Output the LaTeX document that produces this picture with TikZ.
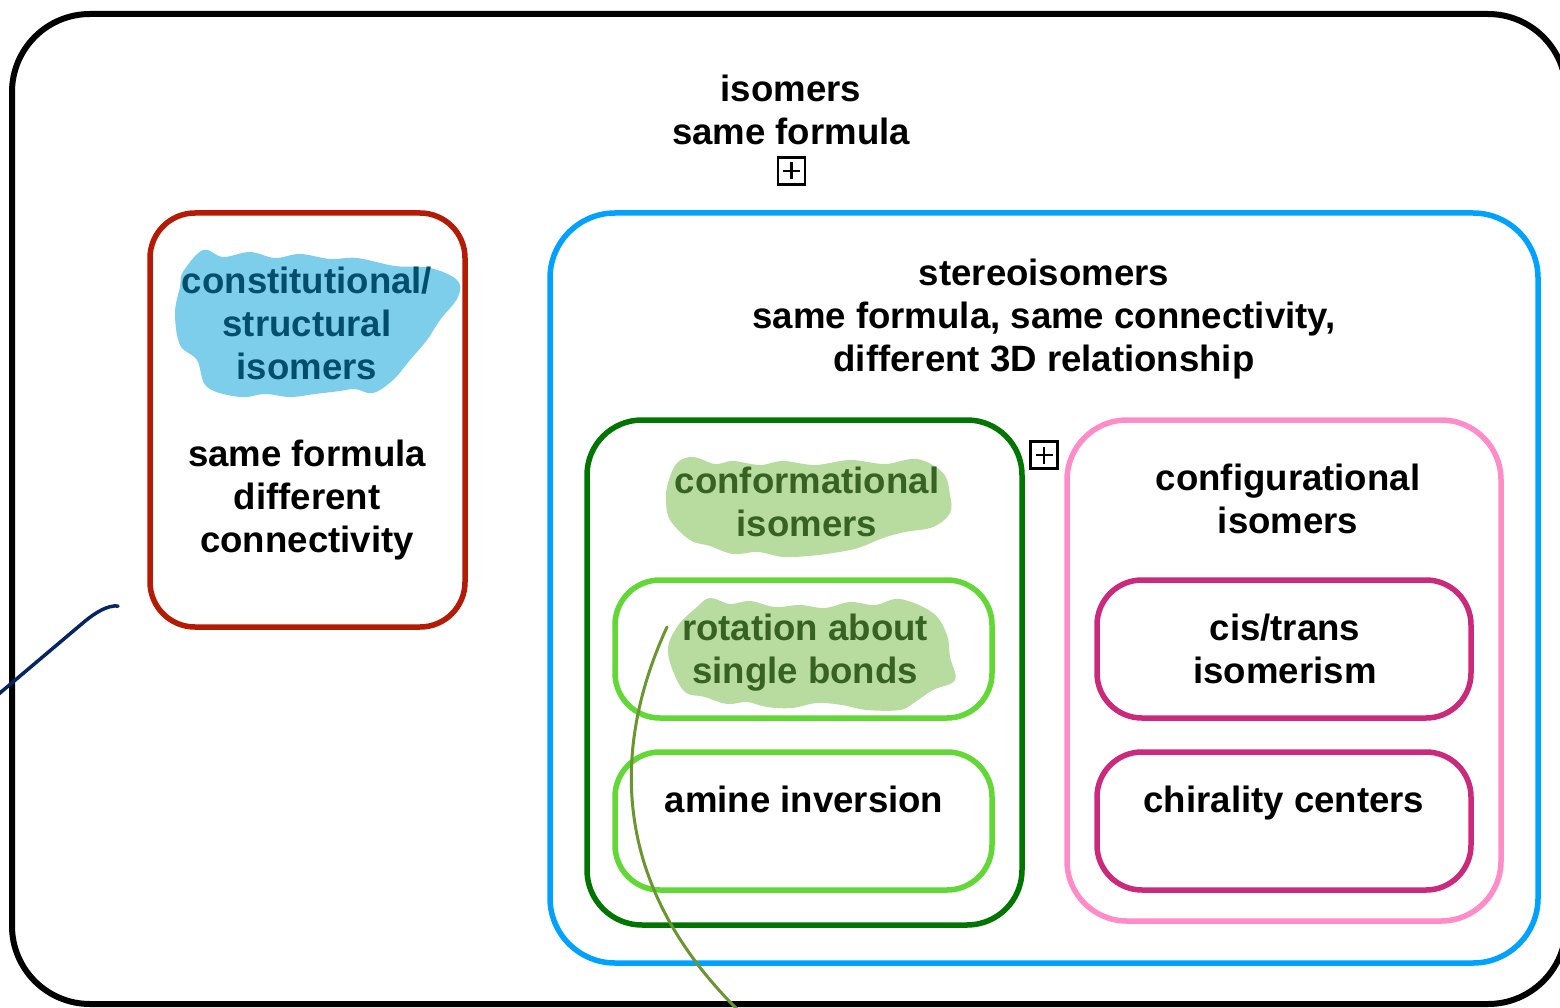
\documentclass[tikz,border=0pt]{standalone}
\usepackage{fontspec}
\setmainfont{Liberation Sans}
\definecolor{redc}{RGB}{181,27,4}
\definecolor{bluec}{RGB}{0,162,255}
\definecolor{dgreen}{RGB}{0,118,0}
\definecolor{lgreen}{RGB}{97,216,54}
\definecolor{pinkc}{RGB}{255,140,200}
\definecolor{magc}{RGB}{203,41,123}
\definecolor{hlblue}{RGB}{125,206,235}
\definecolor{hlgreen}{RGB}{184,220,160}
\definecolor{navyc}{RGB}{5,38,96}
\definecolor{olivec}{RGB}{106,150,48}
\definecolor{tealtext}{RGB}{0,78,108}
\definecolor{greentext}{RGB}{55,98,35}
\tikzset{
  box/.style={draw=#1, line width=5.5pt, inner sep=0pt},
  lbl/.style={font=\bfseries\fontsize{36.6}{43}\selectfont, align=center, inner sep=0pt, anchor=center},
  plusbox/.style={draw, line width=2.5pt, minimum size=27pt, inner sep=0pt,
    path picture={
      \draw[line width=2.5pt] ([xshift=-8.5pt]path picture bounding box.center) -- ([xshift=8.5pt]path picture bounding box.center);
      \draw[line width=2.5pt] ([yshift=-8.5pt]path picture bounding box.center) -- ([yshift=8.5pt]path picture bounding box.center);
    }},
  scribble/.style={fill=#1, draw=none},
  ink/.style={draw=#1, line width=3.5pt, line cap=round}
}
\begin{document}
\begin{tikzpicture}[x=1pt,y=-1pt]
\useasboundingbox (0,0) rectangle (1560,1008);
\clip (0,0) rectangle (1560,1008);
\fill[white] (0,0) rectangle (1560,1008);

% boxes
\node[box=black, line width=6pt, rounded corners=78pt, minimum width=1554pt, minimum height=990pt] (outer) at (789,509) {};
\node[box=redc, rounded corners=45pt, minimum width=315pt, minimum height=414pt] (cons) at (307.5,420) {};
\node[box=bluec, rounded corners=65pt, minimum width=988pt, minimum height=750pt] (stereo) at (1044,588) {};
\node[box=dgreen, rounded corners=55pt, minimum width=435pt, minimum height=505pt] (conf) at (804.5,672.5) {};
\node[box=lgreen, rounded corners=45pt, minimum width=377pt, minimum height=138pt] (rot) at (803.5,649) {};
\node[box=lgreen, rounded corners=45pt, minimum width=377pt, minimum height=138pt] (amine) at (803.5,821) {};
\node[box=pinkc, rounded corners=60pt, minimum width=434pt, minimum height=501pt] (config) at (1284,670.5) {};
\node[box=magc, rounded corners=45pt, minimum width=374pt, minimum height=138pt] (cistrans) at (1284,649) {};
\node[box=magc, rounded corners=45pt, minimum width=374pt, minimum height=138pt] (chiral) at (1284,821) {};

% highlights
\fill[scribble=hlblue] plot[smooth cycle, tension=0.6] coordinates {
  (183,272) (203,250) (223,257) (250,252) (275,258) (300,254) (330,259) (357,258) (395,266)
  (430,268) (457,280) (458,297) (440,320) (427,340) (410,360) (393,380) (373,393) (355,389)
  (340,391) (315,394) (290,397) (265,394) (240,397) (207,387) (197,360) (180,345) (175,313) (180,287)};
\fill[scribble=hlgreen] plot[smooth cycle, tension=0.6] coordinates {
  (668,483) (677,463) (693,457) (715,464) (733,461) (760,465) (783,461) (815,465) (850,460)
  (885,464) (917,459) (943,473) (950,495) (950,513) (933,527) (905,532) (883,538) (858,548) (833,553)
  (808,556) (783,557) (758,552) (733,554) (710,546) (690,540) (670,520) (666,500)};
\fill[scribble=hlgreen] plot[smooth cycle, tension=0.6] coordinates {
  (697,607) (710,598) (730,604) (750,601) (775,607) (800,605) (825,608) (850,602) (875,605) (900,599)
  (933,613) (947,635) (950,657) (955,680) (933,690) (915,702) (900,710) (867,710) (842,705) (817,703)
  (792,708) (767,707) (747,702) (727,704) (705,697) (683,690) (668,653) (677,627)};

% texts
\node[lbl] (ttop) at (791,110) {isomers\\same formula};
\node[plusbox] (plus1) at (791.5,171) {};
\node[lbl, text=tealtext] (tcons) at (307,323) {constitutional/\\structural\\isomers};
\node[lbl] (tconsdef) at (307,500) {same formula\\different\\connectivity};
\node[lbl] (tstereo) at (1044,319.5) {stereoisomers\\same formula, same connectivity,\\different 3D relationship};
\node[plusbox] (plus2) at (1044,455) {};
\node[lbl, text=greentext] (tconf) at (807,502) {conformational\\isomers};
\node[lbl, text=greentext] (trot) at (805,653) {rotation about\\single bonds};
\node[lbl] (tamine) at (804,799.5) {amine inversion};
\node[lbl] (tconfig) at (1288,499) {configurational\\isomers};
\node[lbl] (tcis) at (1285,649) {cis/trans\\isomerism};
\node[lbl] (tchiral) at (1284,803.5) {chirality centers};

% ink strokes
\coordinate (n1) at (118,606);
\coordinate (n2) at (-6,698);
\draw[ink=navyc] (n1) .. controls (108,605) and (96,612) .. (84,622) -- (n2);
\coordinate (o1) at (667,627);
\coordinate (o2) at (740,1012);
\draw[ink=olivec, line width=3pt] (o1) .. controls (615,740) and (605,880) .. (o2);
\end{tikzpicture}
\end{document}
